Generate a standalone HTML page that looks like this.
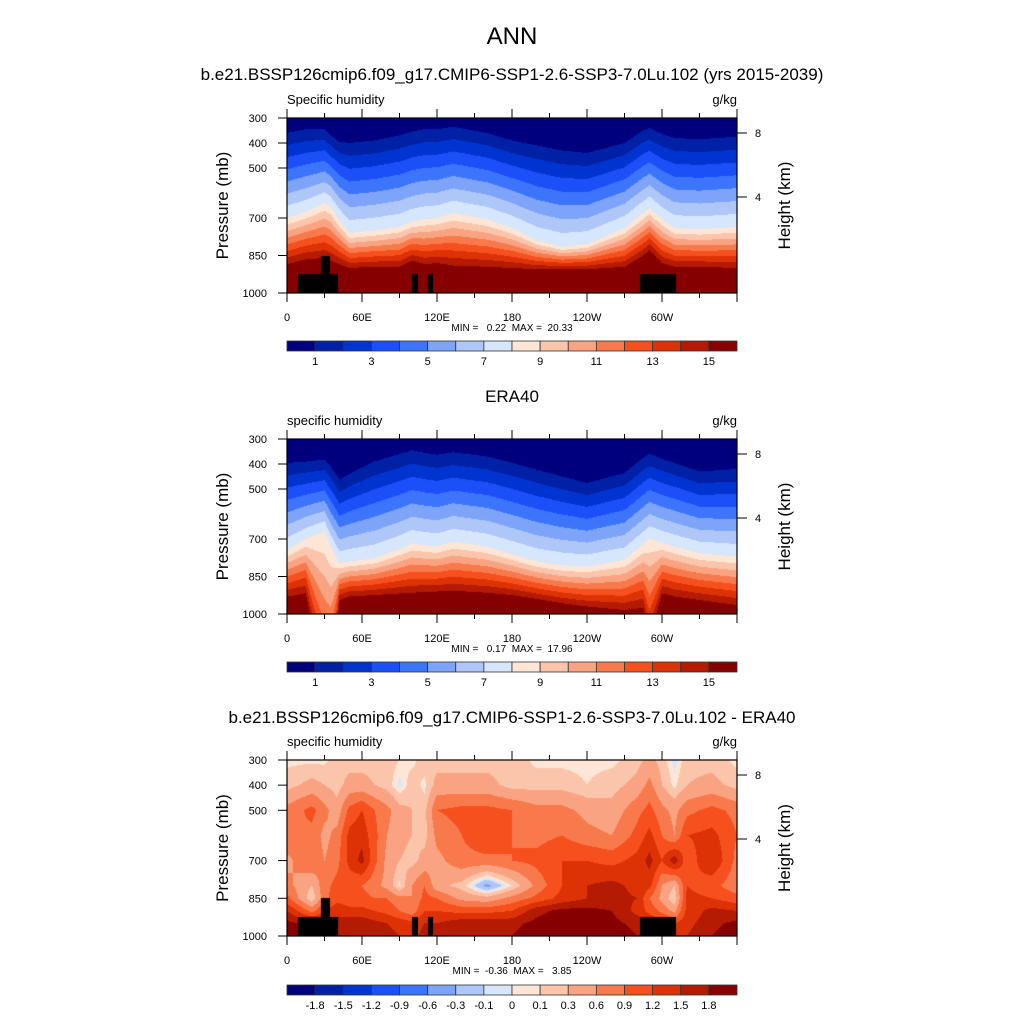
<!DOCTYPE html>
<html><head><meta charset="utf-8">
<style>
body{margin:0;background:#fff;width:1024px;height:1024px;overflow:hidden;font-family:"Liberation Sans",sans-serif}
#wrap{position:relative;width:1024px;height:1024px}
canvas{position:absolute}
svg{position:absolute;left:0;top:0}
text{white-space:pre}
</style></head>
<body><div id="wrap">
<canvas id="c1" width="450" height="175" style="left:287px;top:118px"></canvas>
<canvas id="c2" width="450" height="175" style="left:287px;top:439px"></canvas>
<canvas id="c3" width="450" height="176" style="left:287px;top:760px"></canvas>
<svg id="ov" width="1024" height="1024"></svg>
</div>
<script>
// ---- data ----
const lonNodes=[0,15,30,35,42,50,70,90,100,110,120,133,160,180,200,220,240,270,285,290,300,310,330,360];
const m_p1=[360,345,345,370,395,400,390,370,355,345,345,335,360,390,410,430,440,400,350,340,365,380,385,375];
const m_p8=[700,675,640,655,710,760,750,735,715,705,700,680,705,740,790,815,805,740,680,660,705,740,745,735];
const m_p15=[885,865,860,870,885,900,895,895,870,885,880,890,895,900,905,905,905,895,850,830,880,895,895,900];
const e_p1=[396,390,383,410,463,440,390,360,345,355,363,353,370,395,423,450,476,436,375,359,380,396,430,420];
const e_p8=[743,700,670,730,797,790,777,740,717,725,730,710,730,760,790,805,810,783,720,697,715,730,757,770];
const e_p15=[931,917,1300,1300,944,930,924,918,915,912,910,907,915,924,940,957,970,984,975,1100,917,930,944,964];
const dLon=[0,20,30,40,50,60,70,80,90,100,110,120,140,160,180,200,220,240,260,280,290,300,310,320,340,360];
const dP=[300,400,500,600,700,800,850,900,950,1000];
const dVals=[
[.05,.05,.05,.2,.2,.2,.2,.2,.1,.05,.2,.2,.2,.2,.2,.05,.05,.05,.05,.2,.4,.2,-.05,.2,.2,.05],
[.2,.4,.3,.2,.4,.4,.3,.2,-.05,.2,.05,.4,.4,.4,.2,.2,.2,.1,.2,.4,.7,.3,.05,.3,.4,.2],
[.7,1.0,.7,.4,1.0,1.2,.9,.7,.4,.3,.2,.9,1.0,1.0,.9,.7,.7,.5,.4,.8,1.0,.7,.5,.8,1.0,.8],
[.9,.8,.5,.7,1.3,1.4,1.0,.6,.4,.3,.2,.7,.9,1.2,.9,.8,.9,.7,.6,1.0,1.3,.9,.6,1.2,1.3,.9],
[.5,.9,.6,.8,1.3,1.6,1.0,.5,.3,.2,.4,.5,.8,.8,.9,1.0,1.2,1.2,1.1,1.3,1.6,1.2,1.7,1.0,1.5,.8],
[.7,.3,.8,1.0,1.0,.9,.7,.5,.05,.6,.9,.4,.2,-.4,.1,.7,1.2,1.5,1.6,1.4,1.3,.6,.3,1.2,1.0,.7],
[1.0,.1,.8,1.1,1.0,1.0,.9,.9,.7,.6,1.0,.9,.5,.4,.7,1.0,1.3,1.5,1.6,1.5,.9,.5,.1,1.3,1.2,1.0],
[1.5,.8,1.2,1.4,1.3,1.3,1.2,1.1,.9,.7,1.2,1.2,1.1,1.1,1.2,1.7,1.9,1.9,1.8,1.4,1.1,.8,.5,1.3,1.6,1.5],
[1.9,1.7,1.7,1.6,1.7,1.7,1.6,1.5,1.4,1.3,1.5,1.5,1.7,1.7,1.7,1.9,2.0,2.0,1.9,1.7,1.5,1.4,1.2,1.4,1.7,1.9],
[2.0,1.8,1.8,1.7,1.8,1.8,1.7,1.6,1.5,1.4,1.6,1.6,1.8,1.8,1.8,2.0,2.1,2.1,2.0,1.8,1.6,1.5,1.3,1.5,1.8,2.0]];
const diffLevels=[-1.8,-1.5,-1.2,-0.9,-0.6,-0.3,-0.1,0,0.1,0.3,0.6,0.9,1.2,1.5,1.8];
const qTickLabels=["1","3","5","7","9","11","13","15"];
const lonTickLabels=["0","60E","120E","180","120W","60W"];
const pTicks=[300,400,500,700,850,1000];
// topography boxes [lon0, lon1, pTop]
const topoBoxes=[[9,41,925],[27,34,850],[100,105,925],[113,117,925],[282,311,925]];
const palette=["#00007f","#0020a6","#0034d0","#1b50f8","#3c74fc","#7da4f8","#afc6f8","#d6e6fc","#fde6d6","#fbc5ab","#f9a383","#f87a4c","#f7501f","#dd3206","#b51a02","#870000"];

// ---- axis functions ----
const X0=287,W=450;
function xOf(lon){return lon*W/360;}
function yOf(p,h){return (p-300)*h/700;}
function interp(xs,ys,x){for(let i=0;i<xs.length-1;i++){if(x<=xs[i+1]){const t=(x-xs[i])/(xs[i+1]-xs[i]);return ys[i]+t*(ys[i+1]-ys[i]);}}return ys[ys.length-1];}
function qField(p1,p8,p15,lon,p){
  const a=interp(lonNodes,p1,lon),b=interp(lonNodes,p8,lon),c=interp(lonNodes,p15,lon);
  if(p<=a)return (p-300)/(a-300);
  if(p<=b)return 1+7*(p-a)/(b-a);
  return 8+7*(p-b)/(c-b);
}
function dField(lon,p){
  let j=0;while(j<dP.length-2&&p>dP[j+1])j++;
  const t=Math.max(0,Math.min(1,(p-dP[j])/(dP[j+1]-dP[j])));
  const r0=interp(dLon,dVals[j],lon),r1=interp(dLon,dVals[j+1],lon);
  return r0+t*(r1-r0);
}
function hex(c){return [parseInt(c.substr(1,2),16),parseInt(c.substr(3,2),16),parseInt(c.substr(5,2),16)];}
const pal=palette.map(hex);
function draw(id,binFn,topo){
  const cv=document.getElementById(id),ctx=cv.getContext('2d'),w=cv.width,h=cv.height;
  const img=ctx.createImageData(w,h);
  for(let y=0;y<h;y++){const p=300+(y+0.5)*700/h;
    for(let x=0;x<w;x++){const lon=(x+0.5)*360/w;const b=binFn(lon,p);const c=pal[b];const k=(y*w+x)*4;
      img.data[k]=c[0];img.data[k+1]=c[1];img.data[k+2]=c[2];img.data[k+3]=255;}}
  ctx.putImageData(img,0,0);
  if(topo){ctx.fillStyle='#000';topoBoxes.forEach(bx=>{const x0=xOf(bx[0]),x1=xOf(bx[1]),y0=yOf(bx[2],h);ctx.fillRect(Math.round(x0),Math.round(y0),Math.round(x1-x0),h-Math.round(y0));});}
}
function qBin(q){return Math.max(0,Math.min(15,Math.floor(q)));}
draw('c1',(lon,p)=>qBin(qField(m_p1,m_p8,m_p15,lon,p)),true);
draw('c2',(lon,p)=>qBin(qField(e_p1,e_p8,e_p15,lon,p)),false);
draw('c3',(lon,p)=>{const v=dField(lon,p);let b=0;while(b<15&&v>=diffLevels[b])b++;return b;},true);

// ---- overlay ----
const NS='http://www.w3.org/2000/svg',svg=document.getElementById('ov');
function el(tag,attrs,txt){const e=document.createElementNS(NS,tag);for(const k in attrs)e.setAttribute(k,attrs[k]);if(txt!==undefined)e.textContent=txt;svg.appendChild(e);return e;}
function text(x,y,s,size,anchor,name,extra){const t=el('text',Object.assign({x:x,y:y,'font-size':size,'text-anchor':anchor||'start','font-family':'Liberation Sans, sans-serif',fill:'#000'},extra||{}),s);

return t;}
text(512,44,'ANN',24,'middle','main-title');
text(512,80,'b.e21.BSSP126cmip6.f09_g17.CMIP6-SSP1-2.6-SSP3-7.0Lu.102 (yrs 2015-2039)',17,'middle','panel1-title');
text(512,402,'ERA40',17,'middle','panel2-title');
text(512,723,'b.e21.BSSP126cmip6.f09_g17.CMIP6-SSP1-2.6-SSP3-7.0Lu.102 - ERA40',17,'middle','panel3-title');
function panel(top,h,left,minmax,cbTop,isDiff,pn){
  const g=el('g',{});
  
  
  text(287,top-14,left,13,'start','variable-label-'+pn);
  text(737,top-14,'g/kg',13,'end','units-label-'+pn);
  const fr=el('rect',{x:X0,y:top,width:W,height:h,fill:'none',stroke:'#000','stroke-width':1.2});
  
  
  pTicks.forEach(p=>{const y=top+yOf(p,h);el('line',{x1:X0-9,x2:X0,y1:y,y2:y,stroke:'#000'});
    text(X0-20,y+4,String(p),11,'end','pressure-tick-'+p);});
  for(let lon=0;lon<=360;lon+=30){const x=X0+xOf(lon),L=lon%60==0?9:5;
    el('line',{x1:x,x2:x,y1:top+h,y2:top+h+L,stroke:'#000'});el('line',{x1:x,x2:x,y1:top-L,y2:top,stroke:'#000'});}
  lonTickLabels.forEach((s,i)=>text(X0+xOf(i*60),top+h+28,s,11,'middle','lon-tick-'+s));
  [[8,15],[4,79]].forEach(a=>{const y=top+a[1];el('line',{x1:737,x2:747,y1:y,y2:y,stroke:'#000'});text(755,y+4,String(a[0]),11,'start','height-tick-'+a[0]);});
  text(228,top+h/2,'Pressure (mb)',17,'middle','y-axis-title-'+pn,{transform:'rotate(-90 228 '+(top+h/2)+')'});
  text(790,top+h/2,'Height (km)',17,'middle','right-axis-title-'+pn,{transform:'rotate(-90 790 '+(top+h/2)+')'});
  text(512,top+h+38,minmax,10,'middle','min-max-label-'+pn);
  const bw=W/16;
  for(let i=0;i<16;i++){const r=el('rect',{x:X0+i*bw,y:cbTop,width:bw,height:10,fill:palette[i],stroke:'#333','stroke-width':0.8});
    
    }
  if(isDiff){diffLevels.forEach((v,i)=>text(X0+(i+1)*bw,cbTop+24,String(v),11,'middle','colorbar-label'));}
  else{qTickLabels.forEach((s,i)=>text(X0+(2*i+1)*bw,cbTop+24,s,11,'middle','colorbar-label'));}
}
panel(118,175,'Specific humidity','MIN =   0.22  MAX =  20.33',341,false,1);
panel(439,175,'specific humidity','MIN =   0.17  MAX =  17.96',662,false,2);
panel(760,176,'specific humidity','MIN =  -0.36  MAX =   3.85',985,true,3);
</script>
</body></html>
